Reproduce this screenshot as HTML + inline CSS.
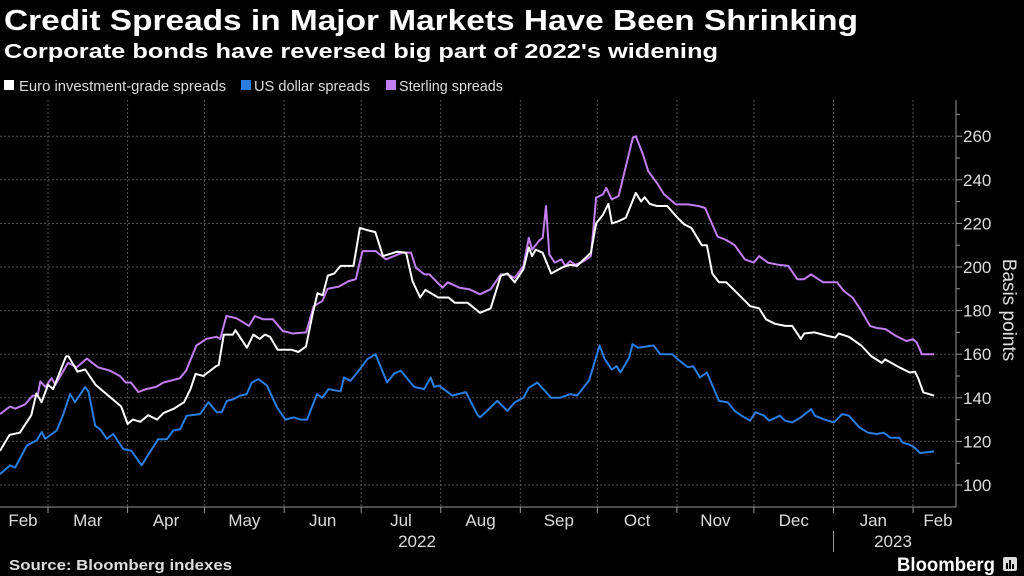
<!DOCTYPE html>
<html><head><meta charset="utf-8"><style>
html,body{margin:0;padding:0;background:#000;width:1024px;height:576px;overflow:hidden}
svg{display:block;font-family:"Liberation Sans",sans-serif}
</style></head><body>
<svg id="chart" width="1024" height="576" viewBox="0 0 1024 576">
<text x="4" y="30" fill="#fff" font-size="29" font-weight="bold" textLength="854" lengthAdjust="spacingAndGlyphs">Credit Spreads in Major Markets Have Been Shrinking</text>
<text x="4" y="58" fill="#fff" font-size="20" font-weight="bold" textLength="714" lengthAdjust="spacingAndGlyphs">Corporate bonds have reversed big part of 2022's widening</text>
<g>
<g><rect x="4" y="80" width="10" height="10" fill="#fff"/><text x="19" y="91" fill="#ddd" font-size="15" textLength="207" lengthAdjust="spacingAndGlyphs">Euro investment-grade spreads</text></g>
<g><rect x="241" y="80" width="10" height="10" fill="#2a7de1"/><text x="254" y="91" fill="#ddd" font-size="15" textLength="116" lengthAdjust="spacingAndGlyphs">US dollar spreads</text></g>
<g><rect x="386" y="80" width="10" height="10" fill="#c37ef2"/><text x="399" y="91" fill="#ddd" font-size="15" textLength="104" lengthAdjust="spacingAndGlyphs">Sterling spreads</text></g>
</g>
<g id="grid"></g>
<g id="axes"></g>
<g id="series"></g>
<text transform="translate(1003,310) rotate(90)" text-anchor="middle" fill="#ddd" font-size="19">Basis points</text>
<text x="9" y="570" fill="#ddd" font-size="15" font-weight="bold" textLength="223" lengthAdjust="spacingAndGlyphs">Source: Bloomberg indexes</text>
<text x="897" y="571" fill="#fff" font-size="19" font-weight="bold" textLength="98" lengthAdjust="spacingAndGlyphs">Bloomberg</text>
<g><rect x="1003" y="557" width="14" height="14" rx="2" fill="#ddd"/><rect x="1006" y="563" width="2" height="6" fill="#000"/><rect x="1009" y="560" width="2" height="9" fill="#000"/><rect x="1012" y="564" width="2" height="5" fill="#000"/></g>
</svg>
<script>
const yTicks=[100,120,140,160,180,200,220,240,260];
const monthLabels=["Feb","Mar","Apr","May","Jun","Jul","Aug","Sep","Oct","Nov","Dec","Jan","Feb"];
const monthStarts=[32,59,90,120,151,181,212,243,273,304,334,365,396,424];
const yearLabels=["2022","2023"];
const eurDays=[40.3,44,48,52.5,54.5,56.5,59,61,66,67,70.5,73.5,77.5,82.5,87.5,90,92,95,98,101.5,104,108,112,114.5,116.5,119.5,124.5,125.5,127.5,131,132,136.5,139,141.5,143.5,145.5,148.5,154,156.5,159.5,162,164,166,168,170.5,173,178,180.5,183,186.5,189.5,195,198.5,201,204,206,211,215,217.5,222.5,227.3,
231.4,235.4,238,240.8,244.2,246.3,247.6,249,251.7,255,259.7,262.4,265.1,270.5,272.5,275.2,277.3,278.7,281.3,284.1,288,290.1,291.4,293.4,296.2,300.2,304.2,306.9,309.6,313.7,315.7,317.8,320.4,323.2,325.8,332.6,336,338.7,342.1,346.1,348.9,352.3,353.6,357.6,362.3,365.7,367,371,375.8,379.8,383.8,385.1,390.6,394.7,396.7,398,400,404.2];
const eurVals=[115.7,123,124,132,142,138,146,144,159,159,152,153,146,141,136,128,130,129,132,130,133,135,138,144,151,150,154.5,155,169,169,171,163,169,167,169,168,162,162,161,163.5,178,188,187,196,197,200.5,200.5,218,217,216,205,207,206.5,193.5,186,189.5,186,186,183.6,183.6,179,
181,196,197,193,199,209,205,208,206.5,197,200,201,200.5,206.5,220,224,229,220,221,222.6,234,230,232,229,228,228,222.6,219.5,218,210,210,197,193,193,190,182,181,176,174,173,173,167,169.5,170,168.5,167.6,169.5,168,164,159,156,157.6,154,151.6,152,149,142.5,141];
const gbpDays=[40.3,44.2,46.2,50.1,53,55,56,58,60.4,61.9,66.8,70.2,74.1,78.5,83.1,87,89.3,91.3,94.2,97.2,101.1,104,110.4,112.8,116.8,120.7,124.6,126.1,128.5,132.4,137.3,139.6,142.8,146.6,150.4,154.3,159.6,162.5,165.9,167.9,172.3,176.2,178.9,181.5,186.7,190.6,197.1,200.4,202.3,205.6,207.6,212.7,214.7,219.3,223.1,227.3,
231.4,235.4,238,240.8,244.2,246.3,247.6,250.3,251.7,253,254.3,256.4,259,260.5,262.4,264.4,267.8,270.5,272.5,275.2,276.5,278.6,281.3,286.8,288,290.8,292.8,296.2,299,303.6,308.3,312.4,315,319.8,323.2,326.5,330.5,334,336,339.4,343.5,347.4,350.9,353.6,356.2,361,366.4,369,372.4,375.8,379.2,381.9,385.2,389.3,393.4,396,397.4,399.4,404.2];
const gbpVals=[132.5,136,135,137,141,141,147.5,145,149,146,156,154,158,154,152.5,150,147,147,142.6,144,145,147,149,152.5,164,167,168,167,177.5,176.5,173,177.5,176,176,170.7,169.5,170,182,184.4,190,191,193.6,194.4,207.3,207.3,203.5,206.6,206.6,199.7,196.6,196.6,190.5,193,190.5,189.8,187.5,
189.8,196.6,196.6,195,200.5,213.4,208,212,213.4,228,205.8,202,203.5,200.5,202.7,201,202.7,205,231.8,233.3,236.3,231,232.5,259.2,260,251.6,244,238.6,233.3,228.7,228.7,228,227,214,212.4,210,203.5,202,205,202,201,200.5,194.4,194.4,196.6,193,193,189,186,180,173,172,171.5,168.4,166,166.9,165.4,160,160];
const usdDays=[40.3,44.2,46.2,50.7,54.6,56.6,57.9,62.4,65,67.6,69.5,73.5,74.8,77.4,79.3,81.9,84.4,88.3,91.5,95.5,97.4,101.9,105.3,107.8,110.5,113,118.2,121.5,124.7,126.7,128.7,131.3,133.8,136.4,138.4,141,144.3,148.2,151.5,154.7,157.4,159.9,163.8,165.8,168.3,173,174.3,176.8,179.5,183.4,186.6,191.1,193.8,196.4,201.6,205.5,208.1,209.4,211.3,216.5,221.8,226.4,227.3,
230,234,238,240.8,244.2,246.3,249.6,255,258.4,262.5,265.1,269.8,273.9,275.9,278.6,280.6,282,285.4,286.7,288.8,294.9,297.5,302.2,305,308.3,310.3,313,315.7,320.4,323.8,326.5,329.2,332.5,334.6,338,339.9,344.1,346.1,348.9,352.3,356.3,357.7,361.1,365.1,368.4,371,375.1,378.5,381.8,384.5,387.2,390.6,392,394.7,396.7,398.7,404.2];
const usdVals=[105,109,108,118,120.5,124.3,121.2,125,132.5,141.7,138,145,142.6,127.2,125.6,121.2,123.4,116.5,115.7,109,112.7,121,121,125,125.6,131.8,132.5,138,133.4,133.4,138.6,139.4,141,141.7,147,148.6,145.6,135.6,130,131,130,130,141.7,140,144,143,149.3,147.8,151.6,157.7,160,147,151,152.5,145,144,149.3,145,145.6,141,142.6,132,131,
134,138.6,134,137.9,140,144.6,147,140,140,141.7,141,148,164,157.7,153,154.5,151.6,158.5,164.6,163,164,160,160,157,154,154.5,149.3,151.6,138.6,137.9,134,131.8,129.5,133.4,131.8,129.5,131.8,129.5,128.7,131,134.8,131.8,130.2,128.7,132.5,131.8,126.4,124,123.4,124,121.7,121.7,119.4,118.5,117,114.7,115.4];

const NS="http://www.w3.org/2000/svg";
const X0=48,D0=59,PXD=2.567,PLOT_R=956,PLOT_T=100,AXIS_Y=507;
function xScale(d){return X0+(d-D0)*PXD;}
function yScale(v){return 485-(v-100)*2.18;}
function mk(tag,attrs,parent){const e=document.createElementNS(NS,tag);for(const k in attrs)e.setAttribute(k,attrs[k]);parent.appendChild(e);return e;}
const grid=document.getElementById('grid'),axes=document.getElementById('axes'),series=document.getElementById('series');
yTicks.forEach(v=>{
  const l=mk('line',{x1:0,x2:PLOT_R,y1:yScale(v),y2:yScale(v),stroke:'#555','stroke-width':1,'stroke-dasharray':'2,2'},grid);
  
  
  const t=mk('line',{x1:PLOT_R,x2:PLOT_R+6,y1:yScale(v),y2:yScale(v),stroke:'#999','stroke-width':1},axes);
  
  
  const m=mk('line',{x1:PLOT_R,x2:PLOT_R+4,y1:yScale(v+10),y2:yScale(v+10),stroke:'#999','stroke-width':1},axes);
  
  
  const tx=mk('text',{x:PLOT_R+7,y:yScale(v)+6,fill:'#ddd','font-size':17},axes);
  tx.textContent=v;
  
  
});
for(let i=1;i<monthStarts.length-1;i++){
  const x=xScale(monthStarts[i]);
  const g=mk('line',{x1:x,x2:x,y1:PLOT_T,y2:AXIS_Y,stroke:'#555','stroke-width':1,'stroke-dasharray':'2,2'},grid);
  
  
  const t=mk('line',{x1:x,x2:x,y1:AXIS_Y,y2:AXIS_Y+6,stroke:'#999','stroke-width':1},axes);
  
  
}
monthLabels.forEach((m,i)=>{
  let c=(xScale(monthStarts[i])+xScale(monthStarts[i+1]))/2;
  if(i===0)c=23; if(i===monthLabels.length-1)c=938;
  const t=mk('text',{x:c,y:526,fill:'#ddd','font-size':17,'text-anchor':'middle'},axes);
  t.textContent=m;
  
  
});
const y1=mk('text',{x:417,y:547,fill:'#ddd','font-size':17,'text-anchor':'middle'},axes);
y1.textContent=yearLabels[0];


const y2=mk('text',{x:893,y:547,fill:'#ddd','font-size':17,'text-anchor':'middle'},axes);
y2.textContent=yearLabels[1];


const sep=mk('line',{x1:xScale(monthStarts[11]),x2:xScale(monthStarts[11]),y1:531,y2:552,stroke:'#999','stroke-width':1},axes);


const xa=mk('line',{x1:0,x2:PLOT_R,y1:AXIS_Y,y2:AXIS_Y,stroke:'#999','stroke-width':1},axes);


const ya=mk('line',{x1:PLOT_R,x2:PLOT_R,y1:PLOT_T,y2:AXIS_Y,stroke:'#999','stroke-width':1},axes);


function line(days,vals,color,name){
  const d=days.map((dd,i)=>(i?'L':'M')+xScale(dd).toFixed(1)+','+yScale(vals[i]).toFixed(1)).join('');
  const p=mk('path',{d:d,fill:'none',stroke:color,'stroke-width':2,'stroke-linejoin':'round'},series);
  
  
}
line(usdDays,usdVals,'#2a7de1','us-dollar-spreads-line');
line(gbpDays,gbpVals,'#c37ef2','sterling-spreads-line');
line(eurDays,eurVals,'#ffffff','euro-ig-spreads-line');
</script>
</body></html>
